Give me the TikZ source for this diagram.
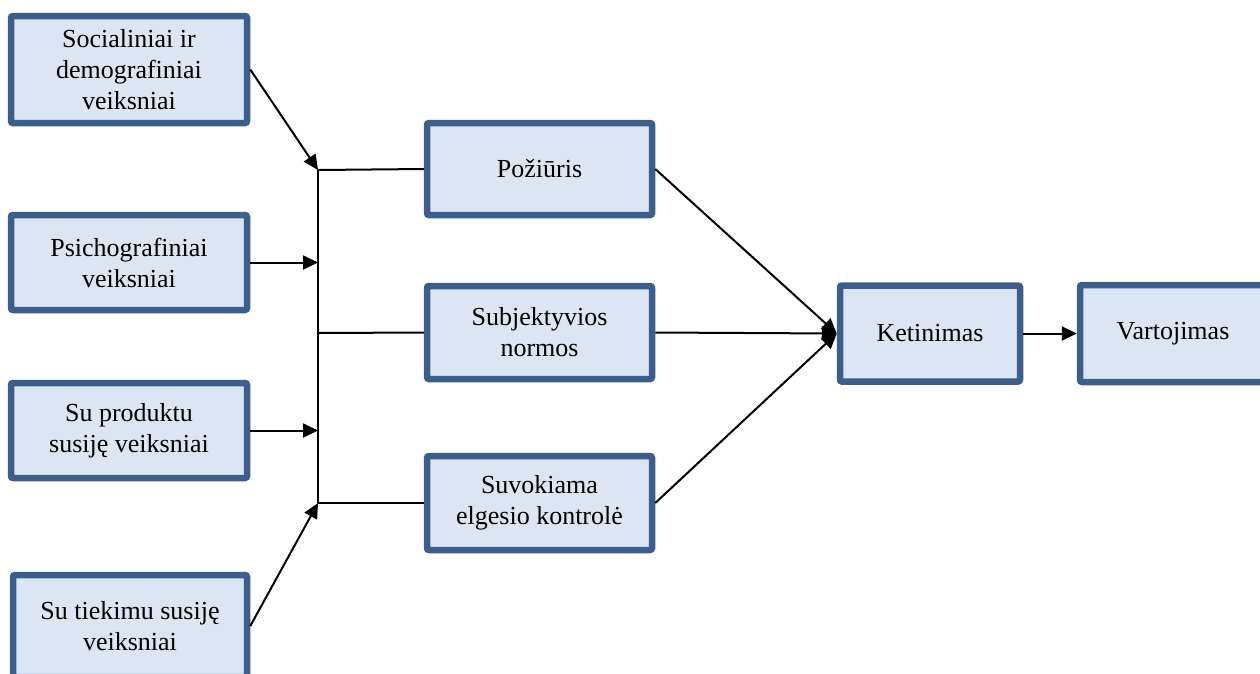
\documentclass[tikz,border=0pt]{standalone}
\usepackage{fontspec}
\setmainfont{Liberation Serif}
\usetikzlibrary{arrows.meta, positioning}
\definecolor{boxfill}{RGB}{220,230,242}
\definecolor{boxline}{RGB}{59,94,140}

\begin{document}
\begin{tikzpicture}[x=1pt, y=-1pt, >={Triangle[length=15pt, width=14pt]},
      line width=2pt,
      factor/.style={draw=boxline, fill=boxfill, line width=6.5pt, rounded corners=2pt,
        align=center, inner sep=0pt, font=\fontsize{26}{31}\selectfont}]
    \useasboundingbox (0,0) rectangle (1260,673);

    % left column
    \node[factor, minimum width=236pt, minimum height=107pt] (social) at (129,69.5)
      {Socialiniai ir\\demografiniai\\veiksniai};
    \node[factor, minimum width=236pt, minimum height=95pt] (psycho) at (129,262.5)
      {Psichografiniai\\veiksniai};
    \node[factor, minimum width=236pt, minimum height=95pt] (product) at (129,430.5)
      {Su produktu\\susiję veiksniai};
    \node[factor, minimum width=234pt, minimum height=102pt] (supply) at (130,626)
      {Su tiekimu susiję\\veiksniai};

    % middle column
    \node[factor, minimum width=225pt, minimum height=92pt] (attitude) at (539.5,169)
      {Požiūris};
    \node[factor, minimum width=225pt, minimum height=93pt] (norms) at (539.5,332.5)
      {Subjektyvios\\normos};
    \node[factor, minimum width=225pt, minimum height=94pt] (control) at (539.5,503)
      {Suvokiama\\elgesio kontrolė};

    % right
    \node[factor, minimum width=180pt, minimum height=96pt] (intent) at (930,333.5)
      {Ketinimas};
    \node[factor, minimum width=186pt, minimum height=97pt] (usage) at (1173,333.5)
      {Vartojimas};

    % bus
    \coordinate (bustop) at (318,170);
    \coordinate (busmid) at (318,333);
    \coordinate (busbot) at (318,503);
    \draw (bustop) -- (busbot);

    \draw[->] (social.east) -- (bustop);
    \draw[->] (psycho.east) -- (psycho.east -| bustop);
    \draw[->] (product.east) -- (product.east -| bustop);
    \draw[->] (supply.east) -- (busbot);

    \draw (bustop) -- (attitude.west);
    \draw (busmid) -- (norms.west);
    \draw (busbot) -- (control.west);

    \draw[->] (attitude.east) -- (intent.west);
    \draw[->] (norms.east) -- (intent.west);
    \draw[->] (control.east) -- (intent.west);
    \draw[->] (intent.east) -- (usage.west);
  \end{tikzpicture}
\end{document}
